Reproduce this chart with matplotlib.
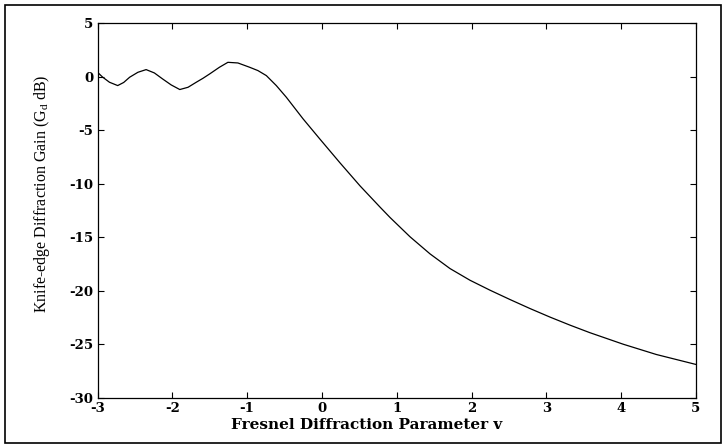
import matplotlib
matplotlib.use("Agg")
import matplotlib.pyplot as plt
from matplotlib.patches import Rectangle

plt.rcParams['axes.unicode_minus'] = False
plt.rcParams['mathtext.fontset'] = 'custom'
plt.rcParams['mathtext.rm'] = 'Liberation Serif'
plt.rcParams['mathtext.it'] = 'Liberation Serif'

# Values
v_param = [-3.0, -2.93, -2.84, -2.73, -2.65, -2.57, -2.46, -2.35, -2.24, -2.13,
           -2.015, -1.90, -1.79, -1.68, -1.59, -1.50, -1.37, -1.257, -1.123, -0.967,
           -0.856, -0.743, -0.61, -0.476, -0.253, -0.030, 0.108, 0.241, 0.509, 0.776,
           0.910, 1.177, 1.445, 1.712, 1.979, 2.247, 2.514, 2.781, 3.049, 3.316,
           3.58, 4.027, 4.47, 5.0]
gain_db = [0.40, -0.06, -0.53, -0.84, -0.55, -0.06, 0.40, 0.65, 0.34, -0.22,
           -0.78, -1.21, -1.00, -0.53, -0.16, 0.25, 0.87, 1.33, 1.27, 0.87,
           0.56, 0.09, -0.84, -1.93, -3.94, -5.81, -6.95, -8.05, -10.2, -12.18,
           -13.15, -14.95, -16.55, -17.92, -19.01, -19.94, -20.81, -21.65, -22.45, -23.2,
           -23.9, -24.98, -25.94, -26.87]

x_ticks = [-3, -2, -1, 0, 1, 2, 3, 4, 5]
y_ticks = [5, 0, -5, -10, -15, -20, -25, -30]

fig = plt.figure(figsize=(7.25, 4.45), dpi=100)

# outer frame around the whole picture
fig.patches.append(Rectangle((5 / 725, 2 / 445), 716 / 725, 438 / 445,
                             transform=fig.transFigure, fill=False,
                             edgecolor='black', linewidth=1.2))

ax = fig.add_axes([97.5 / 725, 1 - 398 / 445, 598.5 / 725, 375 / 445])
ax.plot(v_param, gain_db, color='black', linewidth=0.9)

ax.set_xlim(-3, 5)
ax.set_ylim(-30, 5)
ax.set_xticks(x_ticks)
ax.set_yticks(y_ticks)
ax.tick_params(direction='in', top=True, right=True, length=4, width=0.8, pad=3)
for lbl in ax.get_xticklabels() + ax.get_yticklabels():
    lbl.set_fontfamily('DejaVu Serif')
    lbl.set_fontweight('bold')
    lbl.set_fontsize(9.5)
for s in ax.spines.values():
    s.set_linewidth(0.9)

ax.set_xlabel("Fresnel Diffraction Parameter v", fontfamily='DejaVu Serif',
              fontweight='bold', fontsize=11)
ax.xaxis.set_label_coords(0.449, -0.053)
ax.set_ylabel(r"Knife-edge Diffraction Gain (G$_\mathregular{d}$ dB)",
              fontfamily='Liberation Serif', fontsize=11.5)
ax.yaxis.set_label_coords(-0.076, 0.544)

fig.savefig("out.png", dpi=100)
